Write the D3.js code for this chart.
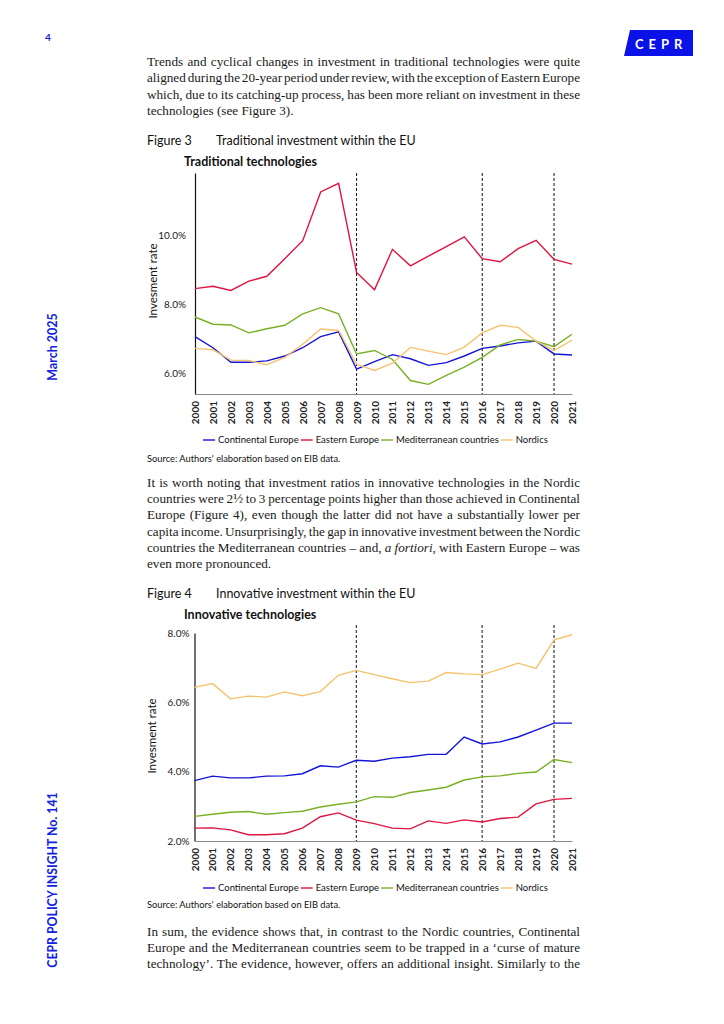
<!DOCTYPE html>
<html>
<head>
<meta charset="utf-8">
<script src="https://cdn.jsdelivr.net/npm/d3@7"></script>
<style>
body { margin: 0; background: #fff; }
svg { display: block; }
</style>
</head>
<body>
<svg width="724" height="1024"></svg>
<script>
var svg = d3.select('svg');

const blue = "#1222e0";

// categories
const years = [2000, 2001, 2002, 2003, 2004, 2005, 2006, 2007, 2008, 2009, 2010,
	2011, 2012, 2013, 2014, 2015, 2016, 2017, 2018, 2019, 2020, 2021];
const regions = ["Continental Europe", "Eastern Europe", "Mediterranean countries", "Nordics"];
const regionColors = ["#1414d6", "#e0143f", "#78b023", "#f5c26e"];
const markerYears = [2009, 2016, 2020];

// Figure 3 - traditional technologies (% investment rate)
const tradContinental = [7.06, 6.74, 6.32, 6.32, 6.36, 6.50, 6.74, 7.06, 7.20, 6.12, 6.34,
	6.54, 6.42, 6.23, 6.31, 6.50, 6.72, 6.79, 6.88, 6.93, 6.56, 6.53];
const tradEastern = [8.45, 8.52, 8.40, 8.67, 8.81, 9.32, 9.84, 11.25, 11.50, 8.92, 8.42,
	9.59, 9.11, 9.39, 9.67, 9.95, 9.32, 9.23, 9.61, 9.85, 9.30, 9.16];
const tradMediterranean = [7.63, 7.42, 7.40, 7.17, 7.29, 7.39, 7.72, 7.90, 7.72, 6.56, 6.66,
	6.40, 5.79, 5.68, 5.94, 6.18, 6.46, 6.82, 6.98, 6.93, 6.77, 7.13];
const tradNordics = [6.72, 6.68, 6.38, 6.37, 6.25, 6.46, 6.84, 7.28, 7.24, 6.26, 6.08,
	6.29, 6.75, 6.64, 6.54, 6.76, 7.17, 7.39, 7.33, 6.93, 6.66, 6.96];
const tradTicks = [6, 8, 10];

// Figure 4 - innovative technologies (% investment rate)
const innovContinental = [3.74, 3.87, 3.82, 3.82, 3.87, 3.88, 3.94, 4.17, 4.13, 4.33, 4.30,
	4.39, 4.43, 4.50, 4.50, 5.00, 4.80, 4.86, 5.00, 5.20, 5.40, 5.40];
const innovEastern = [2.37, 2.38, 2.32, 2.18, 2.18, 2.21, 2.37, 2.70, 2.81, 2.60, 2.50,
	2.37, 2.35, 2.58, 2.51, 2.61, 2.55, 2.65, 2.69, 3.07, 3.20, 3.23];
const innovMediterranean = [2.71, 2.77, 2.83, 2.85, 2.77, 2.82, 2.86, 2.98, 3.06, 3.13, 3.28,
	3.26, 3.40, 3.47, 3.55, 3.76, 3.85, 3.88, 3.95, 3.99, 4.35, 4.26];
const innovNordics = [6.43, 6.54, 6.10, 6.18, 6.15, 6.30, 6.19, 6.31, 6.78, 6.92, 6.80,
	6.68, 6.57, 6.61, 6.86, 6.82, 6.80, 6.96, 7.13, 6.98, 7.80, 7.95];
const innovTicks = [2, 4, 6, 8];

const serif = "'Liberation Serif', serif";
const sans = "Lato, 'Open Sans', sans-serif";

// texte justifié, une ligne à la fois
function textBlock(x, y0, width, lineH, lines, justifyLast) {
	lines.forEach(function(line, i) {
		const t = svg.append('text')
			.attr('x', x)
			.attr('y', y0 + i * lineH)
			.style('font-family', serif)
			.style('font-size', '13.2px')
			.style('fill', '#1a1a1a');
		line.split('_').forEach(function(part, k) {
			t.append('tspan').text(part).style('font-style', k % 2 ? 'italic' : null);
		});
		if (i < lines.length - 1 || justifyLast) {
			const w = t.node().getComputedTextLength();
			const spaces = (line.match(/ /g) || []).length;
			if (spaces) t.style('word-spacing', ((width - w) / spaces) + 'px');
		}
	});
}

function drawChart(cfg) {
	const x = d3.scaleLinear()
		.domain([years[0], years[years.length - 1]])
		.range([cfg.left, cfg.right]);
	const y = d3.scaleLinear()
		.domain(cfg.domain)
		.range([cfg.bottom, cfg.top]);

	// légende du graphique
	svg.append('text')
		.attr('x', 147).attr('y', cfg.captionY)
		.style('font-family', sans).style('font-size', '12.5px').style('fill', '#111')
		.text(cfg.figure);
	svg.append('text')
		.attr('x', 216).attr('y', cfg.captionY)
		.style('font-family', sans).style('font-size', '12.5px').style('fill', '#111')
		.text(cfg.caption);
	svg.append('text')
		.attr('x', 184).attr('y', cfg.titleY)
		.style('font-family', sans).style('font-size', '12.5px').style('font-weight', 'bold')
		.style('fill', '#111')
		.text(cfg.title);

	// lignes verticales pointillées
	svg.selectAll(null).data(markerYears).enter().append('line')
		.attr('x1', d => x(d)).attr('x2', d => x(d))
		.attr('y1', cfg.dashTop).attr('y2', cfg.bottom)
		.style('stroke', '#111').style('stroke-width', 1)
		.style('stroke-dasharray', '3,2');

	// axes
	const gy = svg.append('g')
		.attr('transform', `translate(${cfg.left},0)`)
		.call(d3.axisLeft(y).tickValues(cfg.ticks).tickSize(0).tickPadding(cfg.tickPad)
			.tickFormat(d => d.toFixed(1) + '%'));
	gy.select('.domain').style('stroke', '#111').style('stroke-width', 1.2);
	gy.selectAll('text')
		.style('font-family', sans).style('font-size', '10px').style('fill', '#222');

	const gx = svg.append('g')
		.attr('transform', `translate(0,${cfg.bottom})`)
		.call(d3.axisBottom(x).tickValues(years).tickSize(0).tickFormat(d => d));
	gx.select('.domain').style('stroke', '#888').style('stroke-width', 1);
	gx.selectAll('text')
		.attr('transform', 'rotate(-90)')
		.attr('x', -7).attr('y', 0).attr('dy', '0.35em')
		.style('text-anchor', 'end')
		.style('font-family', sans).style('font-size', '10px').style('font-weight', 'bold')
		.style('fill', '#222');

	// titre de l'axe y
	svg.append('text')
		.attr('transform', `translate(${cfg.labelX},${cfg.labelY}) rotate(-90)`)
		.attr('text-anchor', 'middle')
		.style('font-family', sans).style('font-size', '11.5px').style('fill', '#111')
		.text('Invesment rate');

	// séries
	const line = d3.line()
		.x((d, i) => x(years[i]))
		.y(d => y(d));
	svg.selectAll(null).data(cfg.series).enter().append('path')
		.attr('d', d => line(d))
		.style('fill', 'none')
		.style('stroke', (d, i) => regionColors[i])
		.style('stroke-width', 1.4);

	// légende
	let lx = 203;
	regions.forEach(function(r, i) {
		svg.append('line')
			.attr('x1', lx).attr('x2', lx + 12)
			.attr('y1', cfg.legendY).attr('y2', cfg.legendY)
			.style('stroke', regionColors[i]).style('stroke-width', 1.4);
		const t = svg.append('text')
			.attr('x', lx + 15).attr('y', cfg.legendY).attr('dy', '0.35em')
			.style('font-family', sans).style('font-size', '9.5px').style('fill', '#111')
			.text(r);
		lx += 15 + t.node().getComputedTextLength() + 2;
	});

	svg.append('text')
		.attr('x', 147).attr('y', cfg.sourceY).attr('dy', '0.35em')
		.style('font-family', sans).style('font-size', '9.3px').style('fill', '#111')
		.text("Source: Authors' elaboration based on EIB data.");
}

// en-tête
svg.append('text')
	.attr('x', 48).attr('y', 41)
	.attr('text-anchor', 'middle')
	.style('font-family', sans).style('font-size', '10px').style('font-weight', 'bold')
	.style('fill', blue)
	.text('4');
svg.append('polygon')
	.attr('points', '630,30 693,30 693,56 624,56')
	.style('fill', '#0a12e8');
svg.append('text')
	.attr('x', 635).attr('y', 49)
	.style('font-family', sans).style('font-size', '13px').style('font-weight', 'bold')
	.style('letter-spacing', '5px')
	.style('fill', '#fff')
	.text('CEPR');

// textes verticaux
svg.append('text')
	.attr('transform', 'translate(57,347) rotate(-90)')
	.attr('text-anchor', 'middle')
	.style('font-family', sans).style('font-size', '12.5px').style('font-weight', 'bold')
	.style('fill', blue)
	.text('March 2025');
svg.append('text')
	.attr('transform', 'translate(57,880) rotate(-90)')
	.attr('text-anchor', 'middle')
	.style('font-family', sans).style('font-size', '12.3px').style('font-weight', 'bold')
	.style('fill', blue)
	.text('CEPR POLICY INSIGHT No. 141');

// paragraphes
textBlock(147, 66, 433, 16.4, [
	"Trends and cyclical changes in investment in traditional technologies were quite",
	"aligned during the 20-year period under review, with the exception of Eastern Europe",
	"which, due to its catching-up process, has been more reliant on investment in these",
	"technologies (see Figure 3)."
], false);

textBlock(147, 487, 433, 16.2, [
	"It is worth noting that investment ratios in innovative technologies in the Nordic",
	"countries were 2½ to 3 percentage points higher than those achieved in Continental",
	"Europe (Figure 4), even though the latter did not have a substantially lower per",
	"capita income. Unsurprisingly, the gap in innovative investment between the Nordic",
	"countries the Mediterranean countries – and, _a fortiori_, with Eastern Europe – was",
	"even more pronounced."
], false);

textBlock(147, 936, 433, 16.2, [
	"In sum, the evidence shows that, in contrast to the Nordic countries, Continental",
	"Europe and the Mediterranean countries seem to be trapped in a ‘curse of mature",
	"technology’. The evidence, however, offers an additional insight. Similarly to the"
], true);

drawChart({
	figure: "Figure 3",
	caption: "Traditional investment within the EU",
	title: "Traditional technologies",
	captionY: 145, titleY: 166,
	left: 195, right: 572, top: 173, bottom: 394, dashTop: 173,
	domain: [5.4, 11.8], ticks: tradTicks, tickPad: 9,
	labelX: 157, labelY: 281,
	legendY: 440, sourceY: 459,
	series: [tradContinental, tradEastern, tradMediterranean, tradNordics]
});

drawChart({
	figure: "Figure 4",
	caption: "Innovative investment within the EU",
	title: "Innovative technologies",
	captionY: 598, titleY: 619,
	left: 194.5, right: 572, top: 633, bottom: 841, dashTop: 625,
	domain: [2, 8], ticks: innovTicks, tickPad: 5,
	labelX: 156, labelY: 736,
	legendY: 888, sourceY: 905,
	series: [innovContinental, innovEastern, innovMediterranean, innovNordics]
});
</script>
</body>
</html>
